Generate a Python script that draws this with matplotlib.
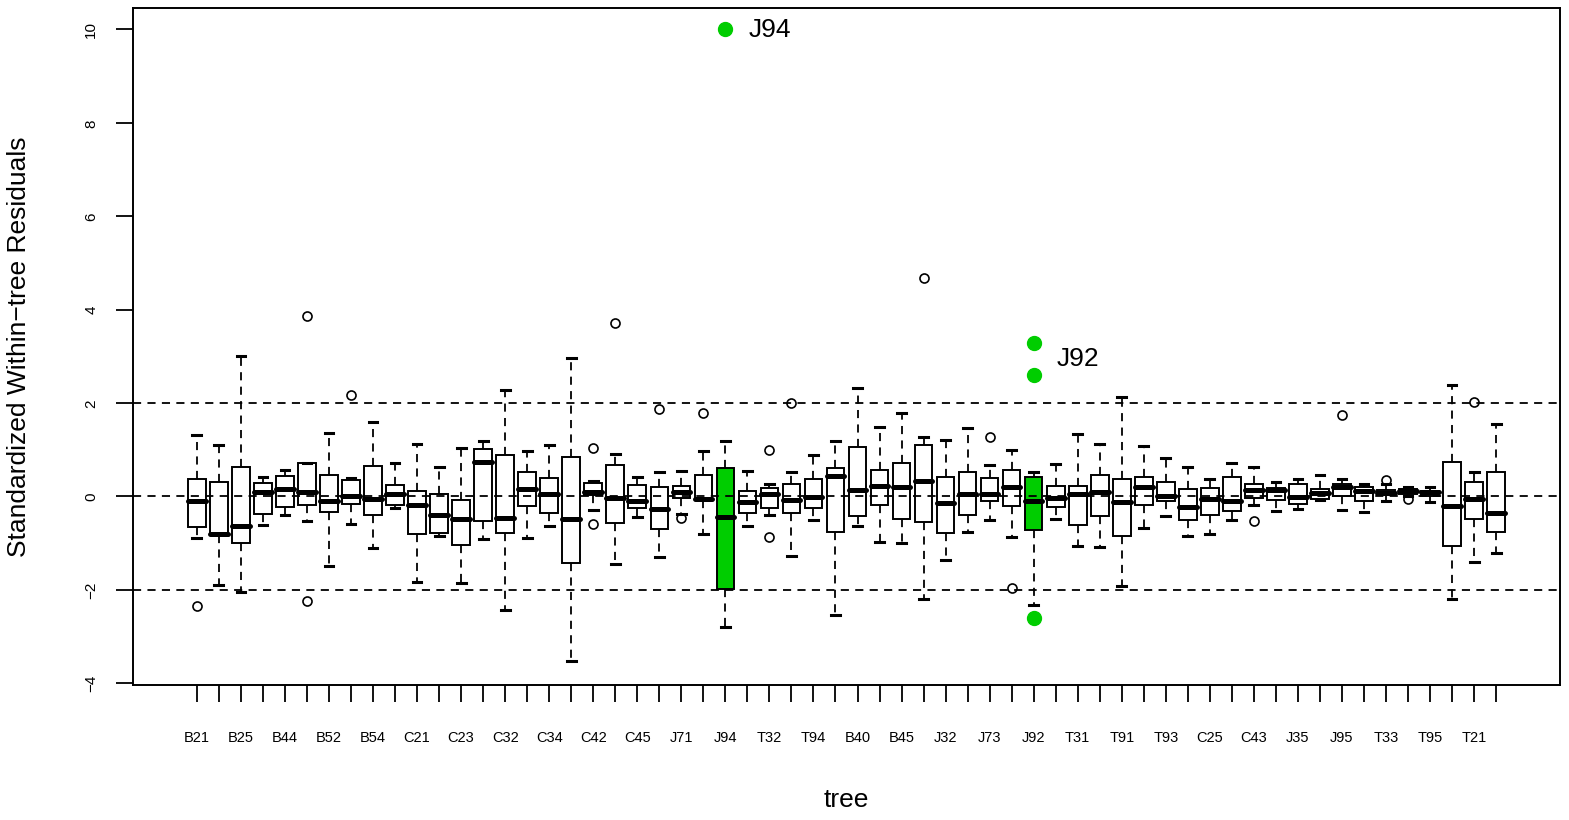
import numpy as np
import matplotlib
matplotlib.use("Agg")
import matplotlib.pyplot as plt

plt.rcParams['font.family'] = ['Liberation Sans', 'DejaVu Sans']

# tick labels shown by R (every other tree)
shown_labels = ["B21", "B25", "B44", "B52", "B54", "C21", "C23", "C32", "C34", "C42",
                "C45", "J71", "J94", "T32", "T94", "B40", "B45", "J32", "J73", "J92",
                "T31", "T91", "T93", "C25", "C43", "J35", "J95", "T33", "T95", "T21"]

# box statistics, trees 1..60
whislo = [-0.89, -1.91, -2.04, -0.61, -0.41, -0.52, -1.49, -0.60, -1.11, -0.25,
          -1.84, -0.84, -1.85, -0.91, -2.43, -0.89, -0.64, -3.52, -0.29, -1.45,
          -0.45, -1.31, -0.37, -0.80, -2.79, -0.64, -0.39, -1.28, -0.51, -2.54,
          -0.63, -0.97, -1.00, -2.20, -1.36, -0.77, -0.51, -0.87, -2.32, -0.49,
          -1.06, -1.09, -1.92, -0.68, -0.43, -0.84, -0.81, -0.51, -0.18, -0.31,
          -0.27, -0.07, -0.29, -0.34, -0.10, 0.00, -0.12, -2.19, -1.41, -1.22]
q1 = [-0.66, -0.82, -0.99, -0.38, -0.22, -0.19, -0.34, -0.16, -0.40, -0.18,
      -0.81, -0.79, -1.05, -0.53, -0.79, -0.21, -0.36, -1.43, 0.03, -0.58,
      -0.24, -0.70, -0.04, -0.07, -1.98, -0.36, -0.25, -0.35, -0.26, -0.77,
      -0.43, -0.19, -0.49, -0.54, -0.79, -0.39, -0.11, -0.21, -0.73, -0.23,
      -0.62, -0.43, -0.84, -0.19, -0.11, -0.51, -0.41, -0.31, -0.04, -0.08,
      -0.16, -0.05, 0.01, -0.11, 0.03, 0.05, 0.01, -1.06, -0.49, -0.76]
med = [-0.11, -0.80, -0.64, 0.09, 0.16, 0.09, -0.09, 0.00, -0.06, 0.04,
       -0.19, -0.41, -0.49, 0.74, -0.47, 0.16, 0.06, -0.49, 0.09, -0.04,
       -0.10, -0.27, 0.09, -0.05, -0.44, -0.13, 0.06, -0.07, -0.02, 0.43,
       0.13, 0.23, 0.21, 0.32, -0.15, 0.05, 0.06, 0.21, -0.10, -0.03,
       0.06, 0.09, -0.12, 0.21, 0.00, -0.22, -0.06, -0.09, 0.13, 0.14,
       -0.02, 0.07, 0.20, 0.11, 0.07, 0.11, 0.09, -0.21, -0.05, -0.36]
q3 = [0.37, 0.31, 0.62, 0.28, 0.43, 0.71, 0.45, 0.34, 0.65, 0.24,
      0.12, 0.06, -0.08, 1.01, 0.88, 0.51, 0.39, 0.84, 0.28, 0.66,
      0.25, 0.19, 0.23, 0.45, 0.60, 0.12, 0.17, 0.27, 0.37, 0.61,
      1.05, 0.56, 0.72, 1.09, 0.42, 0.52, 0.40, 0.57, 0.41, 0.23,
      0.23, 0.46, 0.36, 0.41, 0.31, 0.15, 0.17, 0.41, 0.26, 0.17,
      0.27, 0.16, 0.27, 0.19, 0.13, 0.15, 0.12, 0.73, 0.31, 0.53]
whishi = [1.32, 1.09, 3.00, 0.41, 0.56, 0.71, 1.36, 0.40, 1.59, 0.71,
          1.13, 0.62, 1.04, 1.19, 2.27, 0.96, 1.09, 2.96, 0.33, 0.90,
          0.42, 0.51, 0.54, 0.96, 1.19, 0.54, 0.27, 0.52, 0.89, 1.19,
          2.32, 1.49, 1.79, 1.26, 1.21, 1.47, 0.66, 1.00, 0.52, 0.70,
          1.34, 1.12, 2.13, 1.07, 0.81, 0.63, 0.38, 0.71, 0.63, 0.31,
          0.37, 0.46, 0.36, 0.27, 0.26, 0.20, 0.20, 2.38, 0.51, 1.55]
outliers = {1: [-2.36], 6: [3.87, -2.25], 8: [2.17], 19: [1.04, -0.60], 20: [3.71],
            22: [1.88], 23: [-0.46], 24: [1.78], 25: [10.0], 27: [1.0, -0.88],
            28: [2.0], 34: [4.68], 37: [1.27], 38: [-1.96], 39: [3.29, 2.60, -2.60],
            49: [-0.52], 53: [1.74], 55: [0.34], 56: [-0.05], 59: [2.02]}
highlight = {25: "J94", 39: "J92"}

green = "#00CD00"
n = len(med)
pos = np.arange(1, n + 1)

stats = []
for i in range(n):
    k = i + 1
    stats.append(dict(med=med[i], q1=q1[i], q3=q3[i], whislo=whislo[i], whishi=whishi[i],
                      fliers=[] if k in highlight else outliers.get(k, [])))

fig = plt.figure(figsize=(15.69, 8.205), dpi=100)
ax = fig.add_axes([133 / 1569, 1 - 685 / 820, 1427 / 1569, 677 / 820])

bp = ax.bxp(stats, positions=pos, widths=0.8, capwidths=0.4, patch_artist=True,
            boxprops=dict(facecolor="white", edgecolor="black", linewidth=1.4),
            whiskerprops=dict(color="black", linewidth=1.3, linestyle=(0, (4.5, 3.5))),
            capprops=dict(color="black", linewidth=2.2),
            medianprops=dict(color="black", linewidth=3.6, solid_capstyle="round"),
            flierprops=dict(marker="o", markerfacecolor="none", markeredgecolor="black",
                            markersize=6.5, markeredgewidth=1.2))
for k in highlight:
    bp["boxes"][k - 1].set_facecolor(green)

for yv in (-2, 0, 2):
    ax.axhline(yv, color="black", linewidth=1.3, linestyle=(0, (4.5, 3.5)), zorder=5)

for k, name in highlight.items():
    pts = outliers[k]
    ax.plot([k] * len(pts), pts, "o", color=green, markersize=10, zorder=6)
    hi = [p for p in pts if p > 0]
    ax.text(k + 1.05, np.mean(hi), name, fontsize=19, ha="left", va="center")

ax.set_xlim(-1.9, 62.9)
ax.set_ylim(-4.04, 10.47)
ax.set_xticks(pos)
ticklabels = []
for i in range(n):
    ticklabels.append(shown_labels[i // 2] if i % 2 == 0 else "")
ax.set_xticklabels(ticklabels)
ax.set_yticks(np.arange(-4, 11, 2))
ax.tick_params(axis="x", length=12.5, width=1.3, pad=20, labelsize=10.5)
ax.tick_params(axis="y", length=12, width=1.3, pad=13, labelsize=11, labelrotation=90)
for t in ax.get_yticklabels():
    t.set_va("center")
for s in ax.spines.values():
    s.set_linewidth(1.4)

ax.set_xlabel("tree", fontsize=19)
ax.xaxis.set_label_coords(0.5, -(800 - 685) / 677)
ax.xaxis.label.set_va("center")
ax.set_ylabel("Standardized Within\u2212tree Residuals", fontsize=19)
ax.yaxis.set_label_coords(-(133 - 19) / 1427, 0.5)
ax.yaxis.label.set_va("center")

fig.savefig("out.png", dpi=100)
